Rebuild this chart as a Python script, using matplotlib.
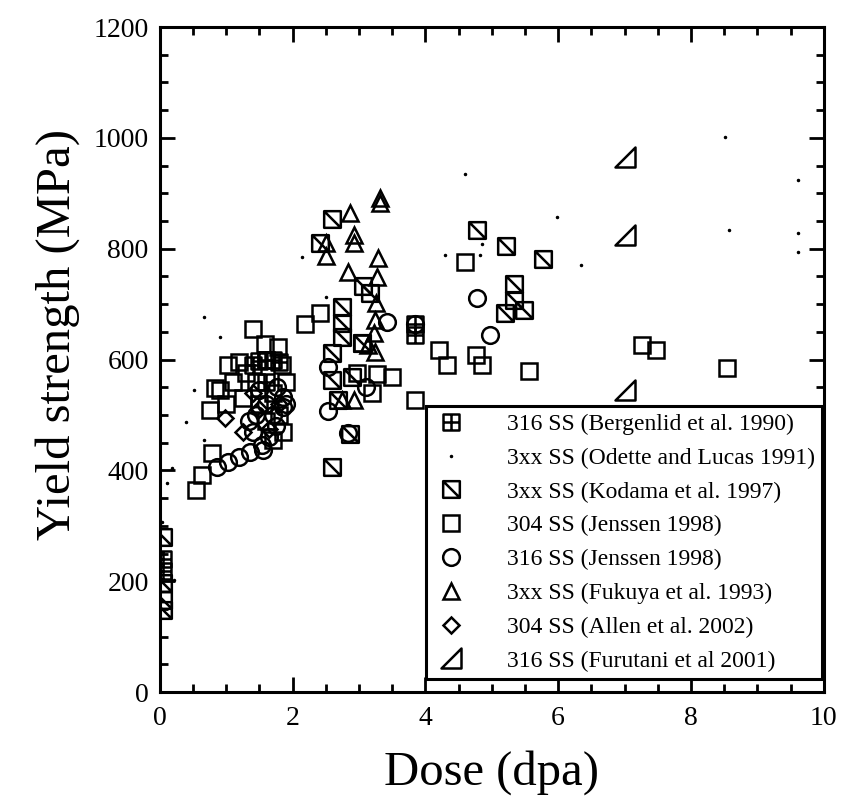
import numpy as np
import matplotlib
matplotlib.use('Agg')
import matplotlib.pyplot as plt
from matplotlib.path import Path

# ========================
# Data (dose in dpa, yield strength in MPa)
# ========================
bergenlid_x = [0.05, 0.05, 1.4, 1.5, 1.6, 1.7, 1.8, 1.6, 3.85, 3.85]
bergenlid_y = [240, 218, 590, 597, 600, 600, 595, 560, 665, 645]

odette_x = [0.51, 0.39, 0.18, 0.11, 0.03, 0.21, 0.66, 0.90, 0.66, 8.51, 4.59, 9.61, 8.58,
            5.98, 9.61, 9.61, 6.34, 4.86, 4.82, 4.30, 2.14, 2.51]
odette_y = [545, 487, 404, 377, 307, 202, 677, 641, 455, 1001, 935, 924, 834,
            857, 828, 794, 770, 808, 789, 789, 785, 713]

kodama_x = [0.05, 0.05, 0.05, 0.05, 2.6, 2.41, 2.74, 2.74, 2.74, 2.59, 2.59, 2.89, 3.04,
            2.6, 2.86, 3.06, 3.16, 2.68, 4.77, 5.21, 5.77, 5.33, 5.33, 5.2, 5.48]
kodama_y = [280, 197, 166, 148, 853, 810, 695, 666, 641, 612, 563, 569, 630,
            406, 465, 733, 720, 527, 834, 805, 781, 736, 707, 684, 689]

j304_x = [0.55, 0.63, 0.78, 0.75, 0.83, 0.9, 1.03, 1.0, 1.1, 1.2, 1.3, 1.4, 1.45, 1.58,
          1.6, 1.78, 1.84, 1.9, 1.25, 1.5, 1.7, 1.8, 1.85, 1.7, 1.6,
          2.18, 2.41, 3.27, 3.49, 3.2, 3.84, 4.2, 4.32, 4.76, 4.86, 5.56, 4.59,
          7.27, 7.48, 8.55, 2.97, 3.04]
j304_y = [365, 392, 432, 509, 548, 545, 590, 520, 560, 595, 575, 655, 560, 628,
          600, 622, 590, 560, 530, 520, 540, 500, 470, 455, 490,
          665, 684, 574, 568, 540, 527, 617, 590, 608, 590, 579, 776,
          626, 617, 585, 575, 630]

j316_x = [0.86, 1.02, 1.2, 1.36, 1.54, 1.65, 1.85, 1.85, 1.76, 1.55, 1.4, 1.45, 1.6,
          1.7, 1.5, 1.35, 1.75, 1.9, 3.42, 2.53, 2.53, 3.11, 2.83, 3.85, 4.77, 4.98]
j316_y = [406, 415, 424, 433, 446, 460, 514, 532, 550, 437, 470, 500, 520,
          500, 545, 490, 480, 520, 667, 586, 507, 550, 467, 665, 711, 644]

fukuya_x = [3.31, 3.31, 2.86, 2.92, 2.92, 2.51, 2.51, 3.28, 2.83, 3.27, 3.25, 3.24,
            3.22, 3.13, 3.24, 2.92, 2.74]
fukuya_y = [891, 882, 864, 825, 810, 810, 787, 783, 758, 749, 702, 671,
            648, 626, 614, 527, 527]

allen_x = [0.98, 1.25, 1.5, 1.65, 1.4, 1.8]
allen_y = [495, 470, 510, 475, 540, 520]

furutani_x = [7.0, 7.0, 7.0]
furutani_y = [965, 825, 545]

labels = ['316 SS (Bergenlid et al. 1990)',
          '3xx SS (Odette and Lucas 1991)',
          '3xx SS (Kodama et al. 1997)',
          '304 SS (Jenssen 1998)',
          '316 SS (Jenssen 1998)',
          '3xx SS (Fukuya et al. 1993)',
          '304 SS (Allen et al. 2002)',
          '316 SS (Furutani et al 2001)']

# ========================
# Custom markers
# ========================
M, L, C = Path.MOVETO, Path.LINETO, Path.CLOSEPOLY
sqPlus = Path([(-1, -1), (1, -1), (1, 1), (-1, 1), (-1, -1), (0, -1), (0, 1), (-1, 0), (1, 0)],
              [M, L, L, L, C, M, L, M, L])
sqDiag = Path([(-1, -1), (1, -1), (1, 1), (-1, 1), (-1, -1), (-1, 1), (1, -1)],
              [M, L, L, L, C, M, L])
rightTri = Path([(-1, -1), (1, -1), (1, 1), (-1, -1)], [M, L, L, C])

plt.rcParams['font.family'] = ['Liberation Serif', 'DejaVu Serif']

fig = plt.figure(figsize=(8.41, 8.06), dpi=100)
ax = fig.add_axes([0.190, 0.1414, 0.7895, 0.825])

ms = 12
mew = 1.8
kw = dict(linestyle='none', mfc='none', mec='k', mew=mew, ms=ms)
ax.plot(bergenlid_x, bergenlid_y, marker=sqPlus, label=labels[0], **kw)
ax.plot(odette_x, odette_y, linestyle='none', marker='.', ms=3, color='k', label=labels[1])
ax.plot(kodama_x, kodama_y, marker=sqDiag, label=labels[2], **kw)
ax.plot(j304_x, j304_y, marker='s', label=labels[3], **kw)
ax.plot(j316_x, j316_y, marker='o', label=labels[4], **kw)
ax.plot(fukuya_x, fukuya_y, marker='^', label=labels[5], **kw)
ax.plot(allen_x, allen_y, marker='D', label=labels[6], linestyle='none', mfc='none', mec='k',
        mew=mew, ms=8)
ax.plot(furutani_x, furutani_y, marker=rightTri, label=labels[7], linestyle='none', mfc='none',
        mec='k', mew=mew, ms=14)

ax.set_xlim(0, 10)
ax.set_ylim(0, 1200)
ax.set_xticks(np.arange(0, 11, 2))
ax.set_xticks(np.arange(0, 10.01, 0.5), minor=True)
ax.set_yticks(np.arange(0, 1201, 200))
ax.set_yticks(np.arange(0, 1201, 50), minor=True)
ax.tick_params(which='both', direction='in', top=True, right=True, width=2, labelsize=20)
ax.tick_params(which='major', length=11)
ax.tick_params(which='minor', length=5.5)
ax.tick_params(axis='x', pad=10)
ax.tick_params(axis='y', pad=8)
for s in ax.spines.values():
    s.set_linewidth(2.2)

ax.set_xlabel('Dose (dpa)', fontsize=35, labelpad=14)
ax.set_ylabel('Yield strength (MPa)', fontsize=35)
ax.yaxis.set_label_coords(-0.12, 0.537)

leg = ax.legend(loc='lower right', bbox_to_anchor=(0.997, 0.02), borderaxespad=0,
                fontsize=17, frameon=True, fancybox=False, edgecolor='k', framealpha=1,
                borderpad=0.3, handlelength=1.5, handletextpad=1.6, labelspacing=0.52)
leg.get_frame().set_linewidth(2.2)

plt.savefig('out.png', dpi=100)
plt.close()
